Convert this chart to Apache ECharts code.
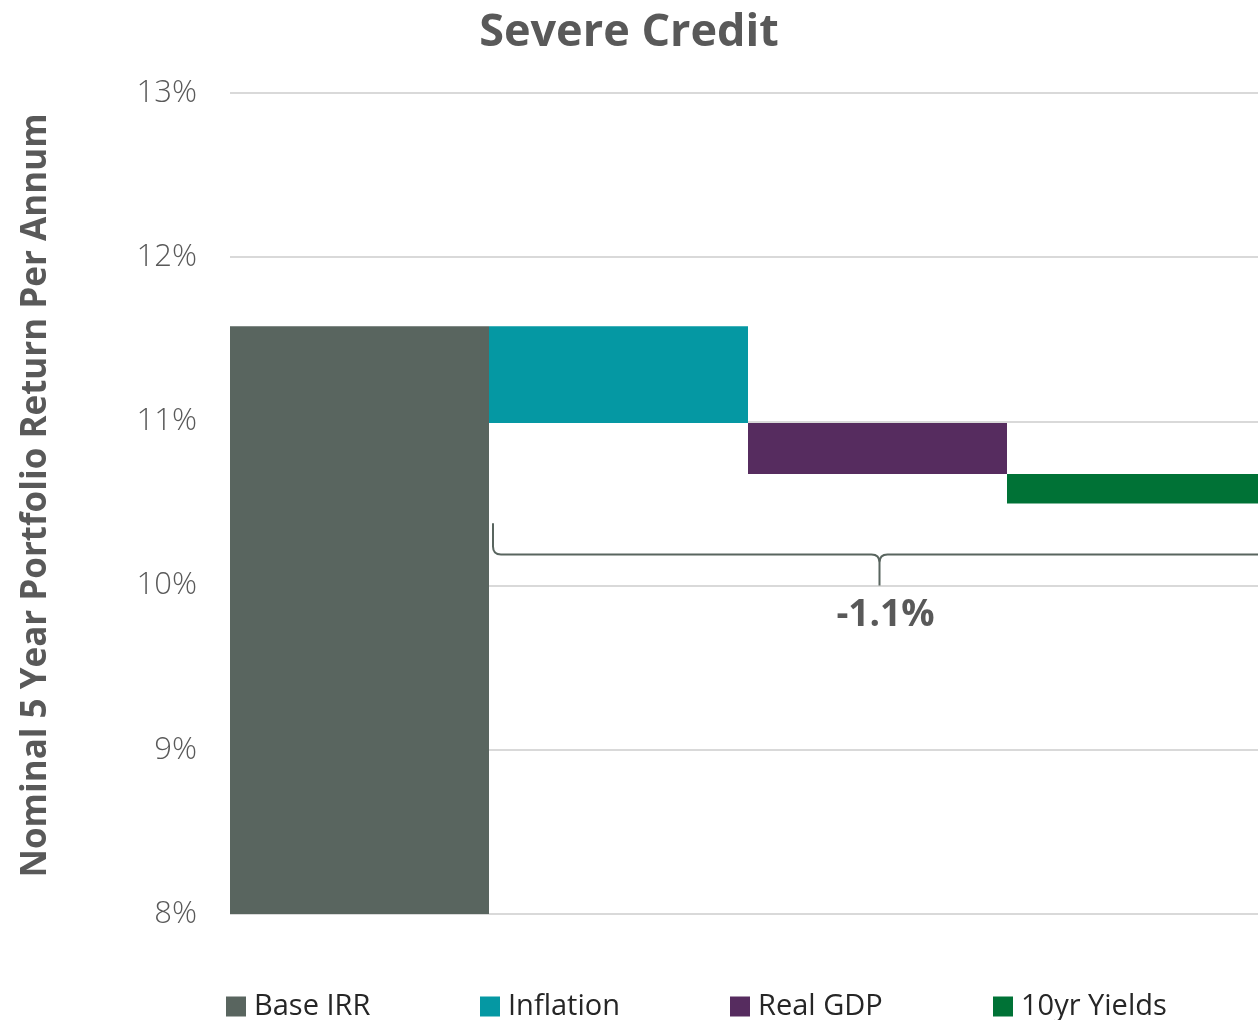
<!DOCTYPE html>
<html>
<head>
<meta charset="utf-8">
<title>Severe Credit</title>
<script src="https://cdn.jsdelivr.net/npm/echarts@6/dist/echarts.min.js"></script>
<style>
  html, body { margin: 0; padding: 0; background: #ffffff; }
  #chart { width: 1258px; height: 1020px; }
</style>
</head>
<body>
<div id="chart"></div>
<script>
// Waterfall steps: starting IRR, then the change from each driver (percentage points)
const categories = ['Base IRR', 'Inflation', 'Real GDP', '10yr Yields'];
const stepValues = [11.58, -0.59, -0.31, -0.18];
const stepColors = ['#59655F', '#0598A3', '#562C5F', '#007236'];
const yTicks = [8, 9, 10, 11, 12, 13];

// Brace under the driver steps (value levels on the y axis)
const braceFrom = 1, braceTo = 3;
const braceTop = 10.38, braceLine = 10.19, braceTip = 10.0;

const FONT = 'Open Sans';
const GREY = '#595959';

// Build invisible offsets and visible heights for the stacked waterfall
const offsets = [];
const heights = [];
let level = 0;
stepValues.forEach((v, i) => {
  if (i === 0) {
    offsets.push(0);
    heights.push(v);
    level = v;
  } else {
    const next = level + v;
    offsets.push(Math.min(level, next));
    heights.push(Math.abs(v));
    level = next;
  }
});
const totalChange = stepValues.slice(1).reduce((a, b) => a + b, 0);
const totalLabel = (totalChange < 0 ? '-' : '+') + Math.abs(totalChange).toFixed(1) + '%';

const series = [{
  name: '_offset',
  type: 'bar',
  stack: 'w',
  barCategoryGap: '0%',
  itemStyle: { color: 'transparent' },
  emphasis: { disabled: true },
  silent: true,
  data: offsets
}];
categories.forEach((name, i) => {
  series.push({
    name: name,
    type: 'bar',
    stack: 'w',
    barCategoryGap: '0%',
    itemStyle: { color: stepColors[i] },
    data: categories.map((_, j) => (j === i ? heights[i] : '-'))
  });
});

// Curly brace spanning the driver steps, with the total change below its tip
series.push({
  type: 'custom',
  silent: true,
  z: 5,
  data: [[braceFrom, braceTo]],
  renderItem: function (params, api) {
    const band = api.size([1, 0])[0];
    const x0 = api.coord([braceFrom, braceLine])[0] - band / 2 + 4;
    const x1 = api.coord([braceTo, braceLine])[0] + band / 2 + 4;
    const yL = api.coord([braceFrom, braceLine])[1];
    const yT = api.coord([braceFrom, braceTop])[1];
    const yP = api.coord([braceFrom, braceTip])[1];
    const xm = (x0 + x1) / 2 - 2;
    const r = 8;
    const path =
      'M' + x0 + ' ' + yT +
      ' L' + x0 + ' ' + (yL - r) +
      ' Q' + x0 + ' ' + yL + ' ' + (x0 + r) + ' ' + yL +
      ' L' + (xm - r) + ' ' + yL +
      ' Q' + xm + ' ' + yL + ' ' + xm + ' ' + (yL + r) +
      ' L' + xm + ' ' + yP +
      ' M' + xm + ' ' + (yL + r) +
      ' Q' + xm + ' ' + yL + ' ' + (xm + r) + ' ' + yL +
      ' L' + (x1 - r) + ' ' + yL +
      ' Q' + x1 + ' ' + yL + ' ' + x1 + ' ' + (yL - r) +
      ' L' + x1 + ' ' + yT;
    return {
      type: 'group',
      children: [{
        type: 'path',
        shape: { pathData: path },
        style: { stroke: '#59655F', lineWidth: 2, fill: null }
      }, {
        type: 'text',
        style: {
          x: xm + 6, y: yP + 30,
          text: totalLabel,
          fill: GREY,
          font: 'bold 37px "' + FONT + '"',
          align: 'center',
          verticalAlign: 'middle'
        }
      }]
    };
  }
});

function legendAt(name, left) {
  return {
    data: [name],
    left: left,
    top: 987,
    icon: 'rect',
    itemWidth: 20,
    itemHeight: 20,
    itemGap: 0,
    selectedMode: false,
    textStyle: { fontFamily: FONT, fontSize: 29, color: '#262626', padding: [0, 0, 0, 3] }
  };
}
const legendLefts = [221, 475, 725, 988];

const chart = echarts.init(document.getElementById('chart'), null, { renderer: 'canvas' });
chart.setOption({
  animation: false,
  backgroundColor: '#ffffff',
  textStyle: { fontFamily: FONT },
  title: {
    text: 'Severe Credit',
    left: 'center',
    top: 6,
    padding: [5, 13, 5, 5],
    textStyle: { fontFamily: FONT, fontSize: 45, fontWeight: 'bold', color: GREY }
  },
  legend: categories.map((c, i) => legendAt(c, legendLefts[i])),
  // the last step runs past the right edge of the canvas
  grid: { left: 230, width: 1036, top: 93, bottom: 106, containLabel: false, outerBoundsMode: 'none' },
  xAxis: {
    type: 'category',
    data: categories,
    axisLine: { show: false },
    axisTick: { show: false },
    axisLabel: { show: false }
  },
  yAxis: {
    type: 'value',
    min: yTicks[0],
    max: yTicks[yTicks.length - 1],
    interval: 1,
    name: 'Nominal 5 Year Portfolio Return Per Annum',
    nameLocation: 'middle',
    nameGap: 176,
    nameTextStyle: { fontFamily: FONT, fontSize: 35, fontWeight: 'bold', color: GREY, padding: [0, 0, 0, 16] },
    axisLine: { show: false },
    axisTick: { show: false },
    splitLine: { lineStyle: { color: '#D9D9D9', width: 2 } },
    axisLabel: {
      formatter: v => v + '%',
      fontFamily: FONT,
      fontSize: 31,
      fontWeight: 300,
      color: GREY,
      margin: 33
    }
  },
  series: series
});
</script>
</body>
</html>
